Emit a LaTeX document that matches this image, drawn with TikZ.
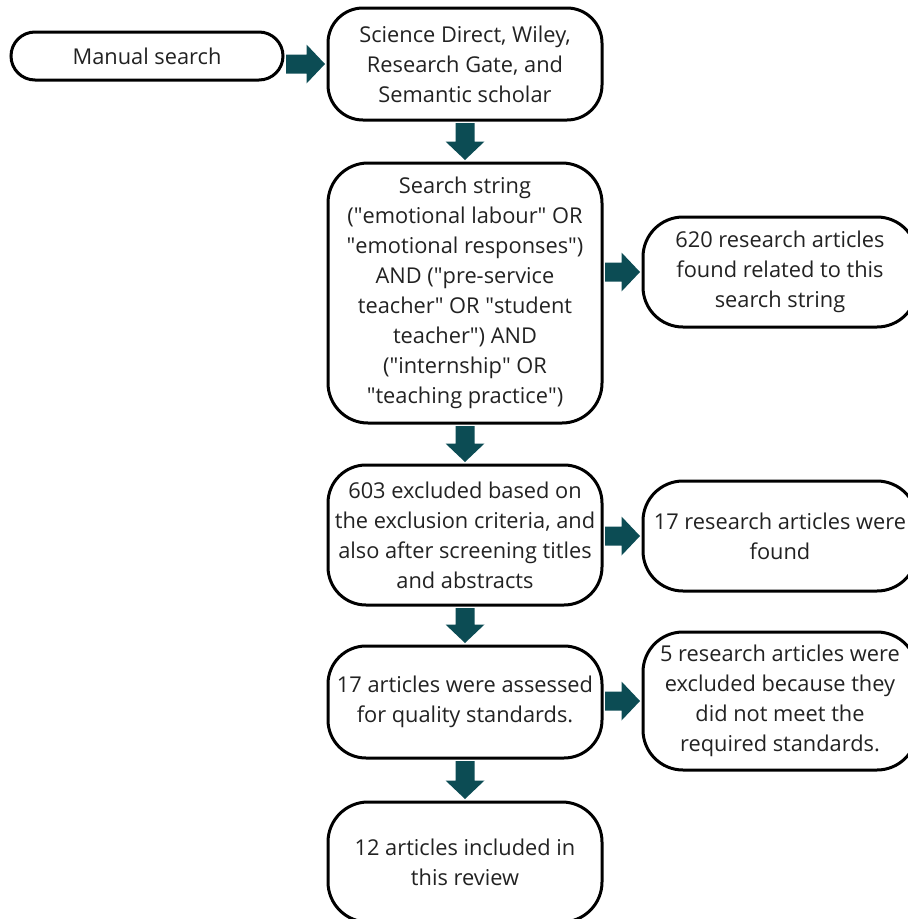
\documentclass[tikz,border=0pt]{standalone}
\usepackage{fontspec}
\setmainfont{Open Sans}
\usetikzlibrary{calc}
\definecolor{arrowteal}{HTML}{0C4C54}
\definecolor{txt}{HTML}{222222}
\newcommand\qq{\textquotedbl}
\newcommand\harr[2]{\fill[arrowteal] let \p1=(#1.east), \p2=(#2.west) in
 ({\x1+1.5pt},{\y2+9.5pt}) -- ({\x2-20pt},{\y2+9.5pt}) -- ({\x2-20pt},{\y2+19.5pt}) -- ({\x2-1.5pt},\y2) -- ({\x2-20pt},{\y2-19.5pt}) -- ({\x2-20pt},{\y2-9.5pt}) -- ({\x1+1.5pt},{\y2-9.5pt}) -- cycle;}
\newcommand\varr[2]{\fill[arrowteal] let \p1=(#1.south), \p2=(#2.north) in
 ({\x1-9.5pt},{\y1-1.5pt}) -- ({\x1-9.5pt},{\y2+20pt}) -- ({\x1-19.5pt},{\y2+20pt}) -- (\x1,{\y2+1.5pt}) -- ({\x1+19.5pt},{\y2+20pt}) -- ({\x1+9.5pt},{\y2+20pt}) -- ({\x1+9.5pt},{\y1-1.5pt}) -- cycle;}
\begin{document}
\begin{tikzpicture}[x=1pt,y=-1pt,
  box/.style={draw=black, line width=3pt, fill=white, rounded corners=38pt, inner sep=0pt,
    minimum width=274pt, align=center, text=txt, font=\fontsize{21.8}{30}\selectfont}]
\useasboundingbox (0,0) rectangle (908,919);
\clip (0,0) rectangle (908,919);
\node[box, minimum width=272pt, minimum height=48pt, rounded corners=24pt] (man) at (147,56) {Manual search};
\node[box, minimum height=112pt, rounded corners=35pt] (A) at (465,64) {Science Direct, Wiley,\\Research Gate, and\\Semantic scholar};
\node[box, minimum height=260pt, rounded corners=40pt] (B) at (465,293) {Search string\\(\qq emotional labour\qq{} OR\\\qq emotional responses\qq)\\AND (\qq pre-service\\teacher\qq{} OR \qq student\\teacher\qq) AND\\(\qq internship\qq{} OR\\\qq teaching practice\qq)};
\node[box, minimum height=140pt] (C) at (465,535) {603 excluded based on\\the exclusion criteria, and\\also after screening titles\\and abstracts};
\node[box, minimum height=112pt] (D) at (465,702) {17 articles were assessed\\for quality standards.};
\node[box, minimum height=120pt, rounded corners=40pt] (E) at (465,862) {12 articles included in\\this review};
\node[box, minimum height=110pt, rounded corners=40pt] (R1) at (780,272) {620 research articles\\found related to this\\search string};
\node[box, minimum height=110pt, rounded corners=40pt] (R2) at (780,536) {17 research articles were\\found};
\node[box, minimum height=138pt, rounded corners=40pt] (R3) at (780,701) {5 research articles were\\excluded because they\\did not meet the\\required standards.};
\harr{man}{A}
\harr{B}{R1}
\harr{C}{R2}
\harr{D}{R3}
\varr{A}{B}
\varr{B}{C}
\varr{C}{D}
\varr{D}{E}
\end{tikzpicture}
\end{document}
